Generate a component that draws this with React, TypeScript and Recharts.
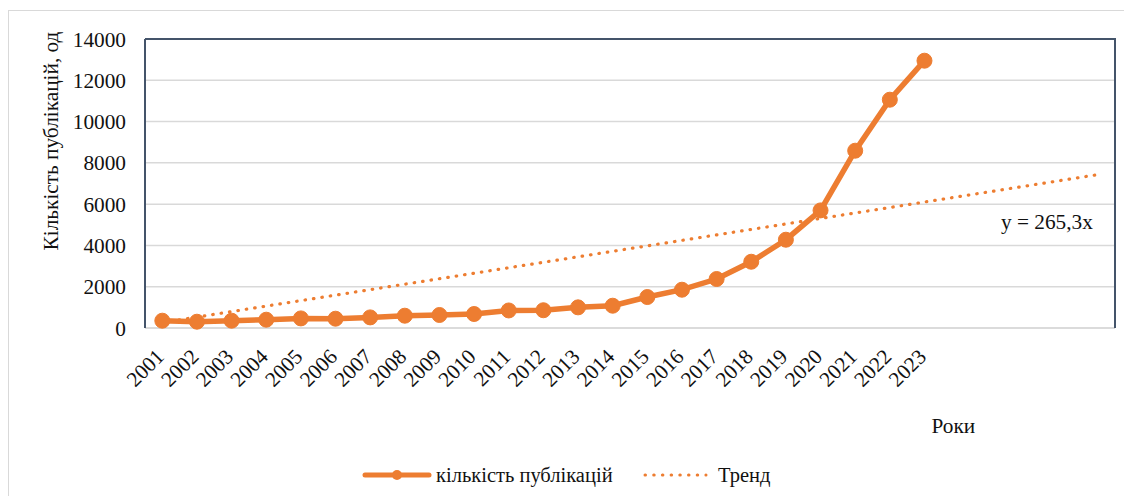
import React from "react";
import { LineChart, Line, XAxis, YAxis, CartesianGrid, Legend, Label } from "recharts";

const years = ["2001","2002","2003","2004","2005","2006","2007","2008","2009","2010","2011","2012","2013","2014","2015","2016","2017","2018","2019","2020","2021","2022","2023","2024","2025","2026","2027","2028"];
const tickLabels = ["2001","2002","2003","2004","2005","2006","2007","2008","2009","2010","2011","2012","2013","2014","2015","2016","2017","2018","2019","2020","2021","2022","2023","","","","",""];
const publications = [354, 305, 354, 402, 465, 450, 514, 596, 630, 678, 850, 860, 1000, 1080, 1500, 1855, 2373, 3210, 4277, 5697, 8589, 11060, 12949];
const trendStart = 265.3;
const trendEnd = 7428.4;
const yTicks = [0, 2000, 4000, 6000, 8000, 10000, 12000, 14000];

const data = years.map((y, i) => ({
  year: y,
  pubs: i < publications.length ? publications[i] : null,
  trend: i === 0 ? trendStart : i === years.length - 1 ? trendEnd : null,
}));

const ORANGE = "#ED7D31";
const FRAME = "#44546A";
const GRID = "#D9D9D9";
const FONT = "Liberation Serif";
const TEXT = "#111";
const FS = 21.3;
const LFS = 20.5;

const CHART_W = 1116;
const CHART_H = 488;
const M_TOP = 31;
const M_RIGHT = 9;
const Y_W = 137;
const X_H = 168;

const XTick = (props: any) => {
  const { x, y, payload } = props;
  const label = tickLabels[payload.index] ?? "";
  if (!label) return null;
  return (
    <g transform={`translate(${x + 3},${y + 28})`}>
      <text textAnchor="end" transform="rotate(-45)" fontFamily={FONT} fontSize={FS} fill={TEXT}>
        {label}
      </text>
    </g>
  );
};

const YTitle = () => {
  const left = Y_W;
  const right = CHART_W - M_RIGHT;
  const top = M_TOP;
  const bottom = CHART_H - X_H;
  return (
    <g>
      <path
        d={`M${left},${top} H${right} V${bottom}`}
        fill="none"
        stroke={FRAME}
        strokeWidth={2}
      />
      <text
        x={49.5}
        y={133}
        transform="rotate(-90, 49.5, 133)"
        textAnchor="middle"
        fontFamily={FONT}
        fontSize={FS}
        fill={TEXT}
      >
        Кількість публікацій, од
      </text>
      <text x={993} y={221} fontFamily={FONT} fontSize={FS} fill={TEXT}>
        y = 265,3x
      </text>
    </g>
  );
};

const XTitle = () => (
  <text x={923.5} y={425} fontFamily={FONT} fontSize={FS} fill={TEXT}>
    Роки
  </text>
);

const LegendContent = () => (
  <svg width={CHART_W} height={40} style={{ display: "block" }}>
    <line x1={357} y1={15} x2={421} y2={15} stroke={ORANGE} strokeWidth={5} strokeLinecap="round" />
    <circle cx={389} cy={15} r={5} fill={ORANGE} />
    <text x={428} y={22} fontFamily={FONT} fontSize={LFS} fill={TEXT}>
      кількість публікацій
    </text>
    <line x1={637} y1={15} x2={698} y2={15} stroke={ORANGE} strokeWidth={3} strokeDasharray="0.5 8.2" strokeLinecap="round" />
    <text x={710} y={22} fontFamily={FONT} fontSize={LFS} fill={TEXT}>
      Тренд
    </text>
  </svg>
);

export default function App() {
  return (
    <div style={{ position: "relative", width: CHART_W, height: CHART_H }}>
      <div
        style={{
          position: "absolute",
          left: -1,
          top: 2,
          width: CHART_W + 1,
          height: CHART_H - 2,
          borderTop: `1.5px solid ${GRID}`,
          borderLeft: `2px solid ${GRID}`,
          boxSizing: "border-box",
        }}
      />
      <LineChart
        width={CHART_W}
        height={CHART_H}
        data={data}
        margin={{ top: M_TOP, right: M_RIGHT, left: 0, bottom: 0 }}
        style={{ position: "relative" }}
      >
        <CartesianGrid vertical={false} stroke={GRID} strokeWidth={1.5} />
        <XAxis
          dataKey="year"
          height={X_H}
          interval={0}
          padding={{ left: 17.3, right: 17.3 }}
          tick={<XTick />}
          tickLine={false}
          tickSize={0}
          axisLine={{ stroke: GRID, strokeWidth: 1.5 }}
        >
          <Label content={<XTitle />} />
        </XAxis>
        <YAxis
          width={Y_W}
          domain={[0, 14000]}
          ticks={yTicks}
          tickLine={false}
          tickSize={0}
          tickMargin={19}
          axisLine={{ stroke: FRAME, strokeWidth: 2 }}
          tick={{ fontFamily: FONT, fontSize: FS, fill: TEXT }}
        >
          <Label content={<YTitle />} />
        </YAxis>
        <Line
          dataKey="trend"
          stroke={ORANGE}
          strokeWidth={3.2}
          strokeDasharray="0.5 8"
          strokeLinecap="round"
          dot={false}
          activeDot={false}
          connectNulls
          isAnimationActive={false}
        />
        <Line
          dataKey="pubs"
          stroke={ORANGE}
          strokeWidth={5.5}
          dot={{ r: 7.5, fill: ORANGE, stroke: ORANGE, strokeWidth: 1 }}
          activeDot={false}
          isAnimationActive={false}
        />
        <Legend
          layout="horizontal"
          verticalAlign="middle"
          content={<LegendContent />}
          wrapperStyle={{ position: "absolute", top: 452, left: 0, width: CHART_W, height: 40 }}
        />
      </LineChart>
    </div>
  );
}
